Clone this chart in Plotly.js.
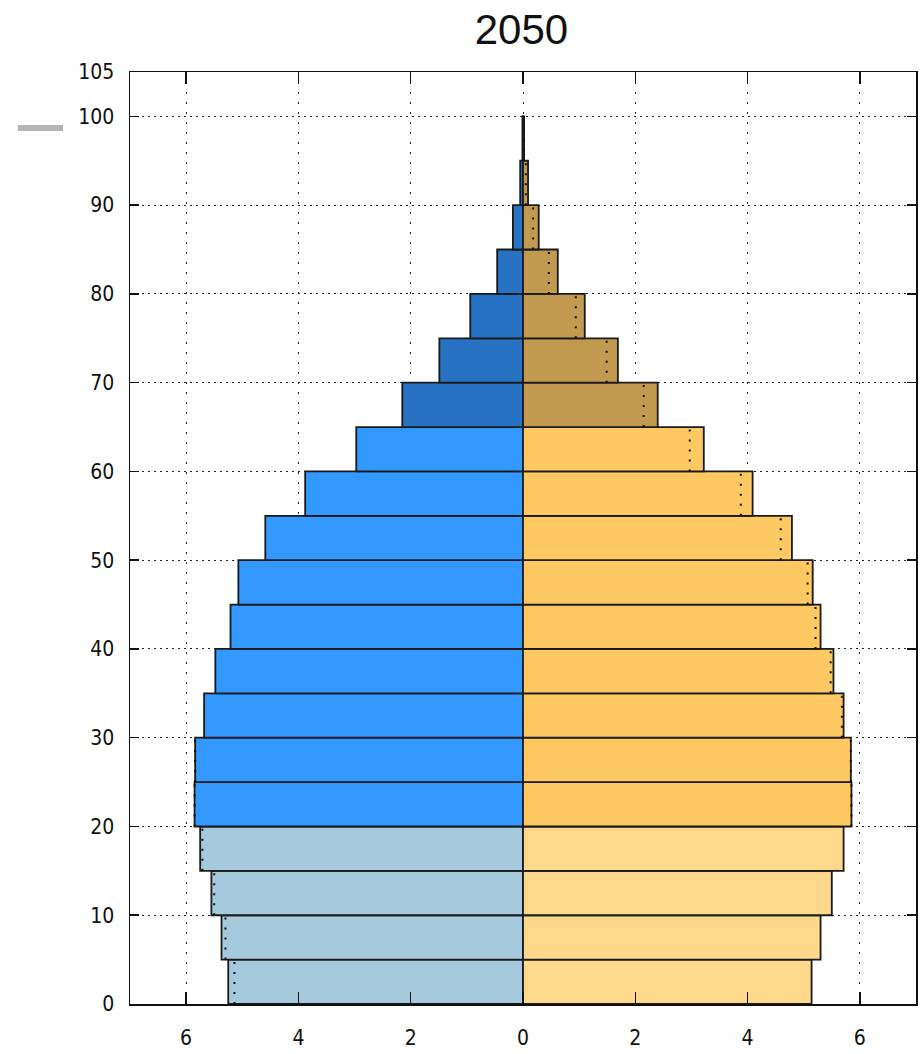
<!DOCTYPE html>
<html>
<head>
<meta charset="utf-8">
<script src="https://cdn.plot.ly/plotly-3.0.1.min.js"></script>
<style>html,body{margin:0;padding:0;background:#fff;}#chart{width:923px;height:1054px;}</style>
</head>
<body>
<div id="chart"></div>
<script>
// Age group starts (5-year groups)
const ageStart = [0,5,10,15,20,25,30,35,40,45,50,55,60,65,70,75,80,85,90,95];
// Percent of population, 2050
const male   = [5.25,5.37,5.55,5.75,5.85,5.84,5.68,5.48,5.21,5.07,4.59,3.88,2.97,2.15,1.49,0.94,0.46,0.18,0.05,0.01];
const female = [5.14,5.30,5.50,5.71,5.85,5.84,5.71,5.53,5.30,5.16,4.79,4.09,3.22,2.40,1.69,1.10,0.62,0.28,0.09,0.02];
const xTickVals = [-6,-4,-2,0,2,4,6];
const xTickText = ['6','4','2','0','2','4','6'];
const yTickVals = [0,10,20,30,40,50,60,70,80,90,100,105];
const titleText = '2050';

const maleColors = {young:'#a6cadd', mid:'#3399ff', old:'#2872c4'};
const femaleColors = {young:'#fed98c', mid:'#fec963', old:'#c29a4f'};
function bracket(a){ return a < 20 ? 'young' : (a < 65 ? 'mid' : 'old'); }

const mid = ageStart.map(a => a + 2.5);
const FONT = '"DejaVu Sans Condensed", "Liberation Sans", sans-serif';
const TFONT = '"Liberation Sans", Arial, sans-serif';

const outline = {color:'#1a1a1a', width:1.8};

const maleTrace = {
  type:'bar', orientation:'h', name:'Male',
  y: mid, x: male.map(v => -v), width: 5,
  marker:{color: ageStart.map(a => maleColors[bracket(a)]), line: outline},
  hoverinfo:'skip'
};
const femaleTrace = {
  type:'bar', orientation:'h', name:'Female',
  y: mid, x: female, width: 5,
  marker:{color: ageStart.map(a => femaleColors[bracket(a)]), line: outline},
  hoverinfo:'skip'
};

// dotted comparison lines: opposite-sex value mirrored, drawn where it falls inside the bar
const dx = [], dy = [];
ageStart.forEach((a,i) => {
  if (female[i] <= male[i]) { dx.push(-female[i], -female[i], null); dy.push(a, a+5, null); }
  if (male[i] <= female[i]) { dx.push(male[i], male[i], null); dy.push(a, a+5, null); }
});
const dotTrace = {
  type:'scatter', mode:'lines', x: dx, y: dy,
  line:{color:'#111', width:2, dash:'2px,8px'},
  hoverinfo:'skip', showlegend:false
};

const layout = {
  width:923, height:1054,
  margin:{l:130, r:7, t:72, b:50},
  paper_bgcolor:'#fff', plot_bgcolor:'#fff',
  showlegend:false,
  barmode:'overlay', bargap:0,
  title:{text:titleText, font:{family:TFONT, size:42, color:'#111'}, x:0.565, xanchor:'center', y:0.972, yanchor:'middle'},
  xaxis:{
    range:[-7,7], tickvals:xTickVals, ticktext:xTickText,
    showline:true, linecolor:'#111', linewidth:1.5, mirror:'ticks',
    ticks:'inside', ticklen:12, tickwidth:1.5, tickcolor:'#111',
    showgrid:true, gridcolor:'#222', gridwidth:1, griddash:'2px,8px',
    zeroline:false, ticklabelstandoff:14,
    tickfont:{family:FONT, size:21, color:'#111'}, fixedrange:true
  },
  yaxis:{
    range:[0,105], tickvals:yTickVals,
    showline:true, linecolor:'#111', linewidth:1.5, mirror:'ticks',
    ticks:'inside', ticklen:9, tickwidth:1.5, tickcolor:'#111',
    showgrid:true, gridcolor:'#222', gridwidth:1, griddash:'2px,4px',
    zeroline:false, ticklabelstandoff:10,
    tickfont:{family:FONT, size:21, color:'#111'}, fixedrange:true
  },
  shapes:[{
    type:'line', xref:'paper', yref:'paper',
    x0:-0.1425, x1:-0.0852, y0:0.940, y1:0.940,
    line:{color:'#b4b4b4', width:6}
  }]
};

Plotly.newPlot('chart', [maleTrace, femaleTrace, dotTrace], layout, {displayModeBar:false, staticPlot:true});
</script>
</body>
</html>
